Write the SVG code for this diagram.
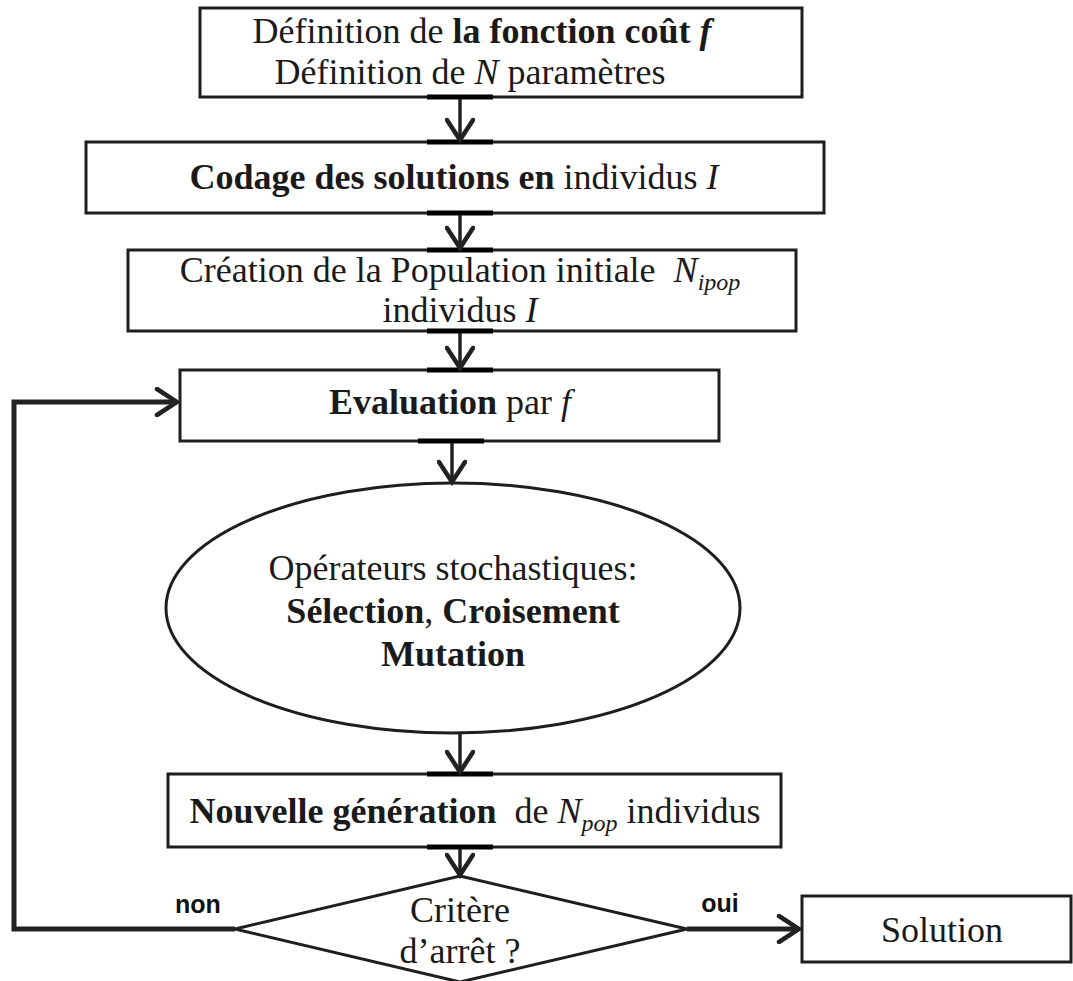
<svg xmlns="http://www.w3.org/2000/svg" width="1073" height="981" viewBox="0 0 1073 981">
<style>
.box{fill:#fff;stroke:#1e1e1e;stroke-width:3}
.t{font-family:"Liberation Serif","Times New Roman",serif;font-size:36px;fill:#1a1a1a;text-anchor:middle}
.b{font-weight:bold}
.i{font-style:italic}
.lab{font-family:"Liberation Sans",Arial,sans-serif;font-size:25px;font-weight:bold;fill:#111;text-anchor:middle}
.c{fill:none;stroke:#222;stroke-width:3.5;stroke-linejoin:miter}
.ck{fill:none;stroke:#222;stroke-width:5}
.j{stroke:#000;stroke-width:5}
</style>
<defs>
<marker id="ah" markerUnits="userSpaceOnUse" viewBox="0 0 30 30" refX="26" refY="15" markerWidth="30" markerHeight="30" orient="auto">
<polyline points="6,2 26,15 6,28" fill="none" stroke="#222" stroke-width="4.5" stroke-linecap="round"/>
</marker>
</defs>
<g id="n1"><rect class="box" x="200" y="8" width="602" height="89"/>
<text class="t" x="482" y="43">Définition de <tspan class="b">la fonction coût </tspan><tspan class="b i">f</tspan></text>
<text class="t" x="470" y="84">Définition de <tspan class="i">N</tspan> paramètres</text></g>
<g id="n2"><rect class="box" x="86" y="142" width="738" height="71"/>
<text class="t" x="454" y="189"><tspan class="b">Codage des solutions en</tspan> individus <tspan class="i">I</tspan></text></g>
<g id="n3"><rect class="box" x="128" y="250" width="668" height="81"/>
<text class="t" x="460" y="282">Création de la Population initiale &#160;<tspan class="i">N</tspan><tspan class="i" font-size="24" dy="8">ipop</tspan></text>
<text class="t" x="460" y="322">individus <tspan class="i">I</tspan></text></g>
<g id="n4"><rect class="box" x="180" y="370" width="539" height="71"/>
<text class="t" x="450" y="414"><tspan class="b">Evaluation</tspan> par <tspan class="i">f</tspan></text></g>
<g id="n5"><ellipse class="box" cx="453" cy="608" rx="287" ry="125"/>
<text class="t" x="453" y="580">Opérateurs stochastiques:</text>
<text class="t" x="453" y="623"><tspan class="b">Sélection</tspan>, <tspan class="b">Croisement</tspan></text>
<text class="t b" x="453" y="666">Mutation</text></g>
<g id="n6"><rect class="box" x="168" y="774" width="613" height="73"/>
<text class="t" x="475" y="823"><tspan class="b">Nouvelle génération</tspan> &#160;de <tspan class="i">N</tspan><tspan class="i" font-size="24" dy="8">pop</tspan><tspan dy="-8"> individus</tspan></text></g>
<g id="n7"><polygon class="box" points="460,876 687,929 460,982 235,929"/>
<text class="t" x="460" y="922">Critère</text>
<text class="t" x="460" y="963">d’arrêt ?</text></g>
<g id="n8"><rect class="box" x="802" y="896" width="269" height="66"/>
<text class="t" x="942" y="942">Solution</text></g>
<g id="connectors">
<line class="j" x1="427" y1="97" x2="493" y2="97"/>
<line class="j" x1="427" y1="142" x2="493" y2="142"/>
<line class="j" x1="427" y1="213" x2="493" y2="213"/>
<line class="j" x1="427" y1="250" x2="493" y2="250"/>
<line class="j" x1="427" y1="331" x2="493" y2="331"/>
<line class="j" x1="427" y1="370" x2="493" y2="370"/>
<line class="j" x1="418" y1="441" x2="484" y2="441"/>
<line class="j" x1="427" y1="774" x2="493" y2="774"/>
<line class="j" x1="427" y1="847" x2="493" y2="847"/>
<line class="c" x1="460" y1="99" x2="460" y2="140" marker-end="url(#ah)"/>
<line class="c" x1="460" y1="215" x2="460" y2="248" marker-end="url(#ah)"/>
<line class="c" x1="460" y1="333" x2="460" y2="368" marker-end="url(#ah)"/>
<line class="c" x1="452" y1="443" x2="452" y2="482" marker-end="url(#ah)"/>
<line class="c" x1="460" y1="734" x2="460" y2="772" marker-end="url(#ah)"/>
<line class="c" x1="460" y1="849" x2="460" y2="875" marker-end="url(#ah)"/>
<line class="ck" x1="687" y1="929" x2="799" y2="929" marker-end="url(#ah)"/>
<polyline class="ck" points="235,929 14,929 14,402 177,402" marker-end="url(#ah)"/>
<text class="lab" x="198" y="913">non</text>
<text class="lab" x="720" y="912">oui</text>
</g>
</svg>
